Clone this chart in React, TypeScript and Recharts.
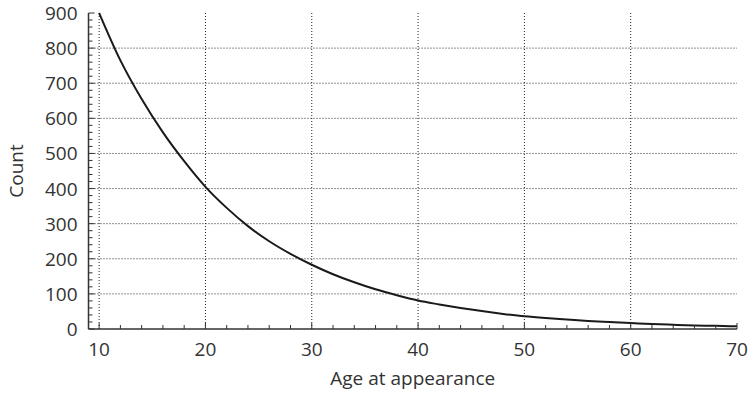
import React from "react";
import { CartesianGrid, Line, LineChart, XAxis, YAxis } from "recharts";

// Count by age at appearance, read every two years
const ages = [10, 12, 14, 16, 18, 20, 22, 24, 26, 28, 30, 32, 34, 36, 38, 40, 42, 44, 46, 48, 50, 52, 54, 56, 58, 60, 62, 64, 66, 68, 70];
const counts = [900, 765, 655, 560, 478, 405, 345, 293, 250, 214, 183, 156, 133, 113, 96, 81, 70, 60, 51, 43, 36, 31, 27, 23, 20, 17, 14, 12, 10, 9, 7.5];

const xTicks = [10, 12, 14, 16, 18, 20, 22, 24, 26, 28, 30, 32, 34, 36, 38, 40, 42, 44, 46, 48, 50, 52, 54, 56, 58, 60, 62, 64, 66, 68, 70];
const xMajor = [10, 20, 30, 40, 50, 60, 70];
const yTicks = [0, 20, 40, 60, 80, 100, 120, 140, 160, 180, 200, 220, 240, 260, 280, 300, 320, 340, 360, 380, 400, 420, 440, 460, 480, 500, 520, 540, 560, 580, 600, 620, 640, 660, 680, 700, 720, 740, 760, 780, 800, 820, 840, 860, 880, 900];
const yMajor = [0, 100, 200, 300, 400, 500, 600, 700, 800, 900];

const data = ages.map((age, i) => ({ age, count: counts[i] }));

const FONT = "'Open Sans', 'Noto Sans', sans-serif";
const TEXT = "#333";
const AXIS = "#333";

const isMajorX = (v: number) => xMajor.includes(v);
const isMajorY = (v: number) => yMajor.includes(v);

// ticks point into the plot area; labels only on the bottom/left majors
const BottomTick = (props: any) => {
  const { x, y, payload } = props;
  const major = isMajorX(payload.value);
  return (
    <g>
      <line x1={x} x2={x} y1={y} y2={y - (major ? 6 : 4)} stroke={AXIS} strokeWidth={1} />
      {major && (
        <text x={x} y={y + 20} textAnchor="middle" dominantBaseline="central" fill={TEXT} fontSize={19} fontFamily={FONT}>
          {payload.value}
        </text>
      )}
    </g>
  );
};

const TopTick = (props: any) => {
  const { x, y, payload } = props;
  const major = isMajorX(payload.value);
  return <line x1={x} x2={x} y1={y} y2={y + (major ? 6 : 4)} stroke={AXIS} strokeWidth={1} />;
};

const LeftTick = (props: any) => {
  const { x, y, payload } = props;
  const major = isMajorY(payload.value);
  return (
    <g>
      <line x1={x} x2={x + (major ? 6 : 4)} y1={y} y2={y} stroke={AXIS} strokeWidth={1} />
      {major && (
        <text x={x - 11} y={y} textAnchor="end" dominantBaseline="central" fill={TEXT} fontSize={19} fontFamily={FONT}>
          {payload.value}
        </text>
      )}
    </g>
  );
};

const RightTick = (props: any) => {
  const { x, y, payload } = props;
  const major = isMajorY(payload.value);
  return <line x1={x} x2={x - (major ? 6 : 4)} y1={y} y2={y} stroke={AXIS} strokeWidth={1} />;
};

export default function App() {
  return (
    <div style={{ position: "fixed", left: 0, top: 0, width: 753, height: 393, background: "#fff" }}>
      <LineChart width={753} height={393} data={data} margin={{ top: 13, right: 16, left: 0, bottom: 0 }}>
        <CartesianGrid
          xAxisId="bottom"
          yAxisId="left"
          stroke="#222"
          strokeDasharray="1 2"
          horizontalValues={[100, 200, 300, 400, 500, 600, 700, 800]}
          verticalValues={[10, 20, 30, 40, 50, 60]}
        />
        <XAxis
          xAxisId="bottom"
          dataKey="age"
          type="number"
          domain={[9, 70]}
          ticks={xTicks}
          interval={0}
          height={64}
          tickSize={0}
          tickMargin={0}
          tickLine={false}
          axisLine={{ stroke: AXIS, strokeWidth: 1.5 }}
          tick={<BottomTick />}
          label={{ value: "Age at appearance", position: "insideBottom", offset: 8, fill: TEXT, fontSize: 19, fontFamily: FONT }}
        />
        <XAxis
          xAxisId="top"
          dataKey="age"
          type="number"
          orientation="top"
          domain={[9, 70]}
          ticks={xTicks}
          interval={0}
          height={0}
          tickSize={0}
          tickMargin={0}
          tickLine={false}
          axisLine={{ stroke: AXIS, strokeWidth: 1.5 }}
          tick={<TopTick />}
        />
        <YAxis
          yAxisId="left"
          type="number"
          domain={[0, 900]}
          ticks={yTicks}
          interval={0}
          width={88.5}
          tickSize={0}
          tickMargin={0}
          tickLine={false}
          axisLine={{ stroke: AXIS, strokeWidth: 1.5 }}
          tick={<LeftTick />}
          label={{ value: "Count", angle: -90, position: "insideLeft", offset: 16, fill: TEXT, fontSize: 19, fontFamily: FONT, style: { textAnchor: "middle" } }}
        />
        <YAxis
          yAxisId="right"
          orientation="right"
          type="number"
          domain={[0, 900]}
          ticks={yTicks}
          interval={0}
          width={0}
          tickSize={0}
          tickMargin={0}
          tickLine={false}
          axisLine={{ stroke: AXIS, strokeWidth: 1.5 }}
          tick={<RightTick />}
        />
        <Line
          xAxisId="bottom"
          yAxisId="left"
          type="monotone"
          dataKey="count"
          stroke="#1a1a1a"
          strokeWidth={2}
          dot={false}
          isAnimationActive={false}
        />
      </LineChart>
    </div>
  );
}
